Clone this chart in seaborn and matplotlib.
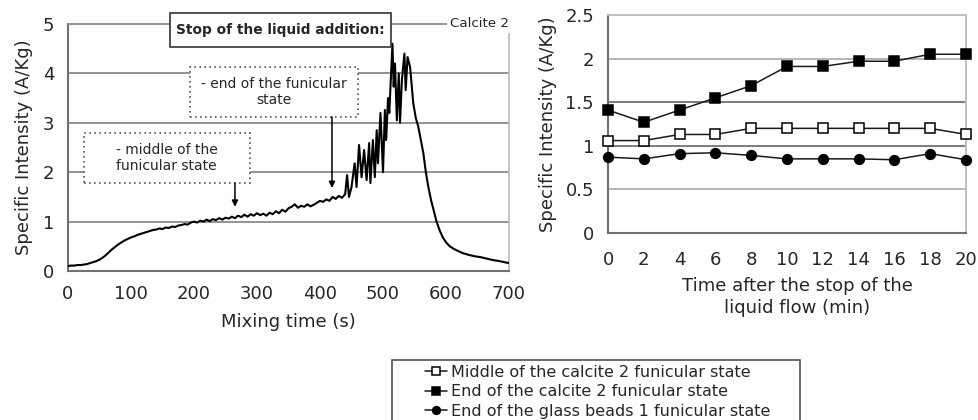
import numpy as np
import pandas as pd
import seaborn as sns
import matplotlib.pyplot as plt
from matplotlib.patches import Rectangle

# ---- left panel: specific intensity vs mixing time (calcite 2)
mix_time = [0, 5, 10, 15, 20, 25, 30, 35, 40, 45, 50, 55, 60, 65, 70, 75, 80, 85, 90, 95, 100,
            105, 110, 115, 120, 125, 130, 135, 140, 145, 150, 155, 160, 165, 170, 175, 180, 185, 190, 195, 200,
            205, 210, 215, 220, 225, 230, 235, 240, 245, 250, 255, 260, 265, 270, 275, 280, 285, 290, 295, 300,
            305, 310, 315, 320, 325, 330, 335, 340, 345, 350, 355, 360, 365, 370, 375, 380, 385, 390, 395, 400,
            405, 410, 415, 420, 425, 430, 435, 440,
            443, 446, 450, 455, 458, 462, 466, 470, 474, 478, 480, 484, 487, 490, 492, 496, 500, 503, 505, 508,
            510, 515, 517, 519, 522, 525, 527, 530, 534, 536, 539, 543, 548, 552, 556, 560, 564, 568, 572, 576,
            580, 585, 590, 595, 600, 606, 612, 620, 627, 635, 645, 655, 665, 675, 685, 692, 700]
intensity = [0.10, 0.11, 0.11, 0.12, 0.12, 0.13, 0.14, 0.16, 0.18, 0.20, 0.23, 0.27, 0.32, 0.38, 0.44, 0.49, 0.54, 0.58, 0.62, 0.65, 0.68,
             0.70, 0.73, 0.75, 0.77, 0.79, 0.81, 0.83, 0.84, 0.86, 0.85, 0.88, 0.87, 0.90, 0.89, 0.92, 0.93, 0.95, 0.94, 0.98, 1.00,
             0.98, 1.02, 1.00, 1.04, 1.01, 1.05, 1.03, 1.07, 1.04, 1.08, 1.06, 1.10, 1.07, 1.12, 1.09, 1.14, 1.10, 1.15, 1.12, 1.17,
             1.13, 1.16, 1.12, 1.18, 1.15, 1.21, 1.17, 1.24, 1.20, 1.27, 1.30, 1.35, 1.28, 1.32, 1.30, 1.35, 1.31, 1.34, 1.38, 1.42,
             1.40, 1.45, 1.42, 1.50, 1.46, 1.52, 1.48, 1.56,
             1.94, 1.50, 1.70, 2.18, 1.70, 2.55, 1.90, 2.45, 1.84, 2.59, 1.78, 2.65, 1.90, 2.85, 2.18, 3.20, 2.00, 3.26, 2.65, 3.50,
             3.20, 4.60, 3.73, 4.20, 3.05, 4.00, 3.00, 3.87, 4.40, 3.66, 4.33, 4.13, 3.40, 3.10, 2.92, 2.65, 2.39, 2.00, 1.70, 1.45,
             1.25, 1.00, 0.82, 0.68, 0.58, 0.50, 0.45, 0.40, 0.36, 0.33, 0.30, 0.28, 0.25, 0.22, 0.20, 0.18, 0.16]

# ---- right panel: intensity after the stop of the liquid flow
stop_time = [0, 2, 4, 6, 8, 10, 12, 14, 16, 18, 20]
middle_calcite = [1.06, 1.06, 1.13, 1.13, 1.20, 1.20, 1.20, 1.20, 1.20, 1.20, 1.13]
end_calcite = [1.41, 1.27, 1.41, 1.55, 1.69, 1.91, 1.91, 1.97, 1.97, 2.05, 2.05]
end_glass = [0.87, 0.85, 0.91, 0.92, 0.89, 0.85, 0.85, 0.85, 0.84, 0.91, 0.84]
series_names = ['Middle of the calcite 2 funicular state',
                'End of the calcite 2 funicular state',
                'End of the glass beads 1 funicular state']
right_yticks = [0, 0.5, 1, 1.5, 2, 2.5]
right_ylabels = ['0', '0.5', '1', '1.5', '2', '2.5']

sns.set_style("white")
plt.rcParams['font.family'] = ['DejaVu Sans']

W, H = 979, 420
fig = plt.figure(figsize=(W / 100, H / 100), dpi=100)
ax1 = fig.add_axes([68 / W, 1 - 271 / H, 441 / W, 247 / H])
ax2 = fig.add_axes([608 / W, 1 - 233 / H, 358 / W, 218 / H])

# ---------------- left panel
left = pd.DataFrame({'t': mix_time, 'I': intensity})
sns.lineplot(data=left, x='t', y='I', color='black', lw=1.5, ax=ax1, zorder=3)
ax1.set_xlim(0, 700)
ax1.set_ylim(0, 5)
ax1.set_xticks(range(0, 701, 100))
ax1.set_yticks(range(0, 6))
for yv in [1, 2, 3, 4]:
    ax1.axhline(yv, color='#8a8a8a', lw=1.3, zorder=1)
ax1.spines['top'].set_color('#8a8a8a')
ax1.spines['top'].set_linewidth(1.3)
ax1.spines['right'].set_color('#c0c0c0')
ax1.spines['right'].set_linewidth(1.3)
for s in ['left', 'bottom']:
    ax1.spines[s].set_color('#707070')
    ax1.spines[s].set_linewidth(1.5)
ax1.tick_params(axis='both', direction='out', length=5, width=1.3, color='#707070',
                labelsize=13, pad=5)
ax1.tick_params(axis='x', pad=5)
ax1.set_xlabel('Mixing time (s)', fontsize=13, labelpad=7)
ax1.set_ylabel('Specific Intensity (A/Kg)', fontsize=13)
ax1.yaxis.set_label_coords(-(68 - 33) / 441, 0.5)

# annotation boxes
ax1.add_patch(Rectangle((0.231, 0.907), 0.501, 0.138, transform=ax1.transAxes, clip_on=False,
                        facecolor='white', edgecolor='#333333', lw=1.2, zorder=5))
ax1.text(0.4815, 0.976, 'Stop of the liquid addition:', transform=ax1.transAxes, ha='center',
         va='center', fontsize=9.9, fontweight='bold', zorder=6)
ax1.add_patch(Rectangle((0.277, 0.623), 0.381, 0.203, transform=ax1.transAxes, clip_on=False,
                        facecolor='white', edgecolor='#555555', lw=1.2, ls=(0, (1, 2)), zorder=5))
ax1.text(0.467, 0.725, '- end of the funicular\nstate', transform=ax1.transAxes, ha='center',
         va='center', fontsize=10, zorder=6, linespacing=1.2)
ax1.add_patch(Rectangle((0.036, 0.356), 0.377, 0.203, transform=ax1.transAxes, clip_on=False,
                        facecolor='white', edgecolor='#555555', lw=1.2, ls=(0, (1, 2)), zorder=5))
ax1.text(0.224, 0.457, '- middle of the\nfunicular state', transform=ax1.transAxes, ha='center',
         va='center', fontsize=10, zorder=6, linespacing=1.2)
arrow = dict(arrowstyle='-|>', color='black', lw=1.1, mutation_scale=9, shrinkA=0, shrinkB=0)
ax1.annotate('', xy=(419, 1.68), xytext=(419, 3.12), arrowprops=arrow, zorder=6)
ax1.annotate('', xy=(265, 1.30), xytext=(265, 1.78), arrowprops=arrow, zorder=6)
ax1.text(0.934, 1.004, 'Calcite 2', transform=ax1.transAxes, ha='center', va='center',
         fontsize=9.6, zorder=6,
         bbox=dict(boxstyle='square,pad=0.25', facecolor='white', edgecolor='none'))

# ---------------- right panel
styles = [dict(marker='s', markerfacecolor='white', markersize=7.5),
          dict(marker='s', markerfacecolor='black', markersize=7.5),
          dict(marker='o', markerfacecolor='black', markersize=7)]
for vals, name, st in zip([middle_calcite, end_calcite, end_glass], series_names, styles):
    sns.lineplot(x=stop_time, y=vals, color='#1a1a1a', lw=1.1, markeredgecolor='black',
                 markeredgewidth=1.1, label=name, ax=ax2, clip_on=False, zorder=4, **st)
ax2.set_xlim(0, 20)
ax2.set_ylim(0, 2.5)
ax2.set_xticks(stop_time)
ax2.set_yticks(right_yticks)
ax2.set_yticklabels(right_ylabels)
for yv, c in zip([0.5, 1, 1.5, 2], ['#aaaaaa', '#666666', '#666666', '#aaaaaa']):
    ax2.axhline(yv, color=c, lw=1.2, zorder=1)
for s in ['top', 'right']:
    ax2.spines[s].set_color('#bbbbbb')
    ax2.spines[s].set_linewidth(1.3)
for s in ['left', 'bottom']:
    ax2.spines[s].set_color('#707070')
    ax2.spines[s].set_linewidth(1.5)
ax2.tick_params(axis='both', direction='out', length=5, width=1.3, color='#707070',
                labelsize=13, pad=5)
ax2.tick_params(axis='x', pad=8)
ax2.set_xlabel('Time after the stop of the\nliquid flow (min)', fontsize=13, linespacing=1.3)
ax2.xaxis.set_label_coords((797 - 608) / 358, -0.20)
ax2.xaxis.label.set_va('top')
ax2.set_ylabel('Specific Intensity (A/Kg)', fontsize=13)
ax2.yaxis.set_label_coords(-(608 - 557) / 358, 0.5)

handles, labels = ax2.get_legend_handles_labels()
ax2.get_legend().remove()
fig.patches.append(Rectangle((392 / W, -0.03), (800 - 392) / W, 0.03 + 1 - 360 / H,
                             transform=fig.transFigure, fill=False, edgecolor='#444444', lw=1.1))
fig.legend(handles, labels, loc='upper left', bbox_to_anchor=(425 / W, 1 - 365 / H),
           frameon=False, fontsize=11.5, handlelength=1.4, handletextpad=0.25,
           borderpad=0, borderaxespad=0, labelspacing=0.27, markerscale=0.8)

fig.savefig('out.png', dpi=100, facecolor='white')
